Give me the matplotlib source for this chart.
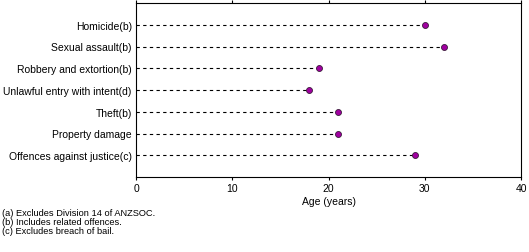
import matplotlib.pyplot as plt
import numpy as np

categories = ['Homicide(b)', 'Sexual assault(b)', 'Robbery and extortion(b)',
              'Unlawful entry with intent(d)', 'Theft(b)', 'Property damage',
              'Offences against justice(c)']
ages = [30, 32, 19, 18, 21, 21, 29]
xticks = [0, 10, 20, 30, 40]
footnotes = ['(a) Excludes Division 14 of ANZSOC.',
             '(b) Includes related offences.',
             '(c) Excludes breach of bail.']

plt.rcParams['font.family'] = ['Liberation Sans', 'DejaVu Sans']

fig = plt.figure(figsize=(5.29, 2.53), dpi=100)
ax = fig.add_axes([136/529, 1 - 178/253, (521 - 136)/529, 174/253])

y = np.arange(len(categories))
for yi, a in zip(y, ages):
    ax.plot([0, a], [yi, yi], color='black', linestyle=(0, (3, 3)), linewidth=0.8)
ax.plot(ages, y, linestyle='none', marker='o', markersize=4.3,
        markerfacecolor='#a000a0', markeredgecolor='#3a1a3a', markeredgewidth=0.6)

ax.set_xlim(0, 40)
ax.set_ylim(len(categories), -1)
ax.set_xticks(xticks)
ax.set_yticks(y)
ax.set_yticklabels(categories, fontsize=7.5)
ax.tick_params(axis='y', length=0, pad=3)
ax.tick_params(axis='x', length=2.5, width=0.8, labelsize=7.5, pad=2, top=True, direction='out')
ax.set_xlabel('Age (years)', fontsize=7.5, labelpad=2)
for s in ax.spines.values():
    s.set_linewidth(0.8)

for i, t in enumerate(footnotes):
    fig.text(2/529, 1 - (213 + 9.3*i)/253, t, fontsize=6.7, va='center', ha='left')

fig.savefig('out.png', dpi=100)
